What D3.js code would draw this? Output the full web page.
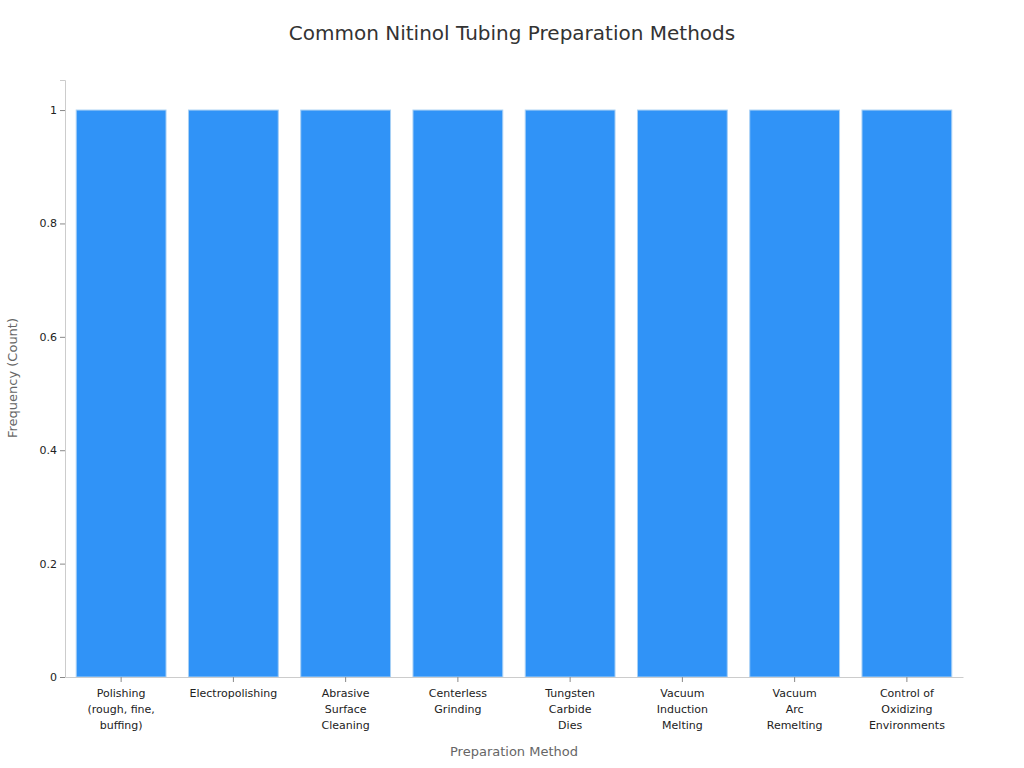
<!DOCTYPE html>
<html><head><meta charset="utf-8">
<script src="https://cdn.jsdelivr.net/npm/d3@7"></script>
<style>body{margin:0;background:#fff;font-family:"DejaVu Sans",sans-serif;}</style>
</head><body>
<script>
var categories = [
  ["Polishing", "(rough, fine,", "buffing)"],
  ["Electropolishing"],
  ["Abrasive", "Surface", "Cleaning"],
  ["Centerless", "Grinding"],
  ["Tungsten", "Carbide", "Dies"],
  ["Vacuum", "Induction", "Melting"],
  ["Vacuum", "Arc", "Remelting"],
  ["Control of", "Oxidizing", "Environments"]
];
var counts = [1, 1, 1, 1, 1, 1, 1, 1];
var yTicks = [0, 0.2, 0.4, 0.6, 0.8, 1];

var width = 1024, height = 768;
var margin = {left: 65, right: 61, top: 80, bottom: 91};

var svg = d3.select("body").append("svg")
  .attr("width", width).attr("height", height);

var x = d3.scaleBand().domain(d3.range(categories.length))
  .range([margin.left, width - margin.right]).paddingInner(0.2).paddingOuter(0.1);
var y = d3.scaleLinear().domain([0, 1.053]).range([height - margin.bottom, margin.top]);

svg.append("text").attr("x", 512).attr("y", 40).attr("text-anchor", "middle")
  .attr("font-size", 20).attr("fill", "#333").text("Common Nitinol Tubing Preparation Methods");

svg.append("g").selectAll("rect").data(counts).enter().append("rect")
  .attr("x", function(d, i) { return x(i); })
  .attr("y", function(d) { return y(d); })
  .attr("width", x.bandwidth())
  .attr("height", function(d) { return y(0) - y(d); })
  .attr("fill", "#3093f7").attr("stroke", "#a8d0f5").attr("stroke-width", 1);

var yAxis = svg.append("g").attr("transform", "translate(" + margin.left + ",0)")
  .call(d3.axisLeft(y).tickValues(yTicks).tickFormat(function(d) { return d === 0 || d === 1 ? d : d3.format(".1f")(d); }).tickSize(5));
yAxis.selectAll("text").attr("font-size", 11).attr("fill", "#222").attr("font-family", "DejaVu Sans");
yAxis.selectAll("line").attr("stroke", "#888");
yAxis.select(".domain").attr("stroke", "#ccc");

var xAxis = svg.append("g").attr("transform", "translate(0," + y(0) + ")")
  .call(d3.axisBottom(x).tickFormat("").tickSize(5).tickSizeOuter(0));
xAxis.selectAll("line").attr("stroke", "#888");
xAxis.select(".domain").attr("stroke", "#ccc");
xAxis.selectAll(".tick").each(function(d) {
  var t = d3.select(this).append("text").attr("y", 20).attr("text-anchor", "middle")
    .attr("font-size", 11).attr("fill", "#222").attr("font-family", "DejaVu Sans");
  categories[d].forEach(function(line, j) {
    t.append("tspan").attr("x", 0).attr("dy", j ? 16 : 0).text(line);
  });
});

svg.append("text").attr("x", (margin.left + width - margin.right) / 2).attr("y", 756)
  .attr("text-anchor", "middle").attr("font-size", 13).attr("fill", "#666").text("Preparation Method");
svg.append("text").attr("transform", "translate(17,378) rotate(-90)")
  .attr("text-anchor", "middle").attr("font-size", 13).attr("fill", "#666").text("Frequency (Count)");
</script>
</body></html>
